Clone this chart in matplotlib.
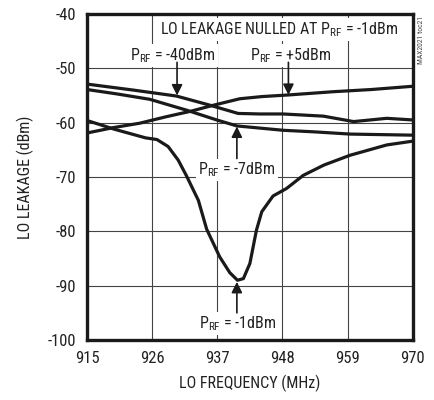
import matplotlib
matplotlib.use("Agg")
import matplotlib.pyplot as plt

# LO leakage vs LO frequency, one curve per RF input power
freq_m40 = [915, 922.8, 930.1, 935.8, 940.5, 944.2, 948.1, 954.9, 960.0, 965.6, 970]
leak_m40 = [-52.9, -54.0, -55.1, -56.8, -58.3, -58.4, -58.4, -58.8, -59.8, -59.2, -59.5]

freq_p5 = [915, 919.5, 923.9, 928.4, 932.5, 936.3, 940.8, 944.5, 949.0, 956.6, 963.0, 970]
leak_p5 = [-61.9, -60.9, -60.1, -58.9, -57.9, -56.8, -55.6, -55.2, -54.9, -54.3, -53.9, -53.3]

freq_m7 = [915, 920.0, 925.6, 931.8, 936.9, 940.3, 944.2, 948.1, 953.5, 959.4, 970]
leak_m7 = [-53.9, -54.7, -55.7, -57.7, -59.5, -60.6, -61.0, -61.4, -61.7, -62.1, -62.3]

freq_m1 = [915, 919.6, 924.9, 926.8, 928.7, 930.4, 931.8, 933.8, 935.2, 937.4,
           939.1, 940.4, 941.4, 942.5, 943.6, 944.5, 946.4, 948.7, 951.5, 955.0, 959.4,
           965.6, 970]
leak_m1 = [-59.6, -61.2, -62.8, -63.1, -64.4, -66.9, -69.8, -74.3, -79.6, -84.7,
           -87.6, -89.0, -88.7, -85.9, -79.8, -76.4, -73.5, -72.1, -69.7, -67.8, -66.0,
           -64.1, -63.4]

x_ticks = [915, 926, 937, 948, 959, 970]
y_ticks = [-40, -50, -60, -70, -80, -90, -100]

plt.rcParams['font.family'] = ['Roboto Condensed', 'Liberation Sans', 'DejaVu Sans']
plt.rcParams['axes.unicode_minus'] = False
plt.rcParams['mathtext.fontset'] = 'custom'
plt.rcParams['mathtext.rm'] = 'Roboto Condensed'
plt.rcParams['mathtext.it'] = 'Roboto Condensed'

fig = plt.figure(figsize=(4.35, 4.0), dpi=100)
ax = fig.add_axes([0.2, 0.15, 0.749, 0.815])

for fx, ly in [(freq_m40, leak_m40), (freq_p5, leak_p5), (freq_m7, leak_m7), (freq_m1, leak_m1)]:
    ax.plot(fx, ly, color='#1a1a1a', lw=2.3, solid_capstyle='butt', solid_joinstyle='round', zorder=3)

ax.set_xlim(915, 970)
ax.set_ylim(-100, -40)
ax.set_xticks(x_ticks)
ax.set_yticks(y_ticks)
ax.grid(True, color='#444444', lw=0.8)
ax.set_axisbelow(True)
ax.tick_params(length=0, labelsize=12, pad=8, colors='#222222')
for sp in ax.spines.values():
    sp.set_linewidth(2.4)
    sp.set_color('#1a1a1a')

ax.set_xlabel('LO FREQUENCY (MHz)', fontsize=11.5, color='#222222', labelpad=6)
ax.set_ylabel('LO LEAKAGE (dBm)', fontsize=11.5, color='#222222', labelpad=10)

box = dict(facecolor='white', edgecolor='none', pad=1.5)
fs = 11.5
ax.text(947.4, -42.8, r'LO LEAKAGE NULLED AT P$_{\mathrm{RF}}$ = -1dBm', ha='center', va='center',
        fontsize=fs, color='#222222', bbox=box, zorder=4)
ax.text(929.5, -47.6, r'P$_{\mathrm{RF}}$ = -40dBm', ha='center', va='center',
        fontsize=fs, color='#222222', bbox=box, zorder=4)
ax.text(949.3, -47.6, r'P$_{\mathrm{RF}}$ = +5dBm', ha='center', va='center',
        fontsize=fs, color='#222222', bbox=box, zorder=4)
ax.text(940.3, -68.7, r'P$_{\mathrm{RF}}$ = -7dBm', ha='center', va='center',
        fontsize=fs, color='#222222', bbox=box, zorder=4)
ax.text(940.5, -96.9, r'P$_{\mathrm{RF}}$ = -1dBm', ha='center', va='center',
        fontsize=fs, color='#222222', bbox=box, zorder=4)

arrow = dict(arrowstyle='-|>', color='#1a1a1a', lw=1.2, mutation_scale=16, shrinkA=0, shrinkB=0)
ax.annotate('', xy=(930.2, -55.0), xytext=(930.2, -48.9), arrowprops=arrow, zorder=5)
ax.annotate('', xy=(949.0, -54.9), xytext=(949.0, -48.9), arrowprops=arrow, zorder=5)
ax.annotate('', xy=(940.3, -60.7), xytext=(940.3, -66.6), arrowprops=arrow, zorder=5)
ax.annotate('', xy=(940.3, -89.3), xytext=(940.3, -95.0), arrowprops=arrow, zorder=5)

fig.text(0.968, 0.9, 'MAX2021 toc21', rotation=90, ha='center', va='center',
         fontsize=5.5, color='#444444')

fig.savefig('out.png', dpi=100)
